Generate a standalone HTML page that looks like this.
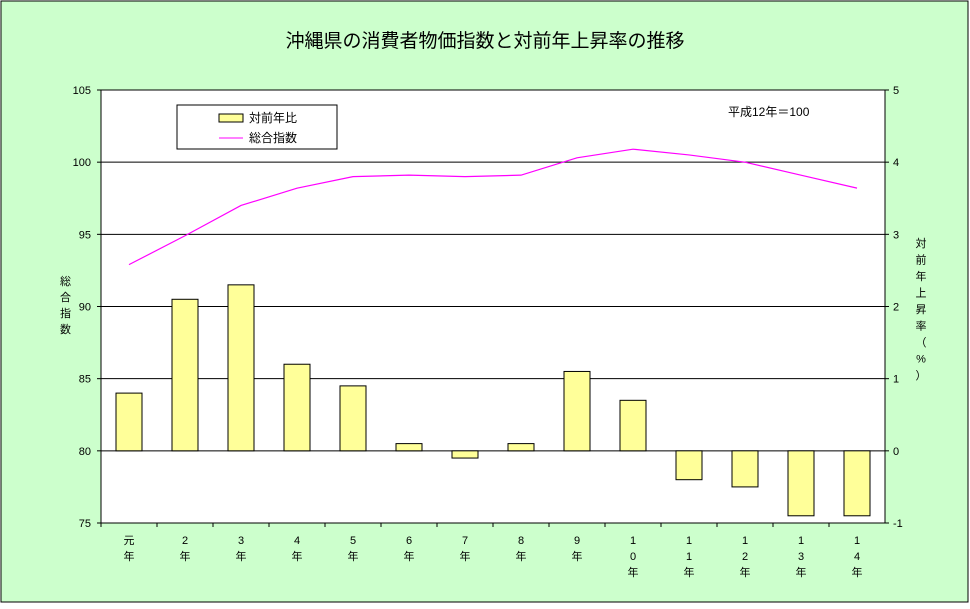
<!DOCTYPE html>
<html><head><meta charset="utf-8"><style>
body{margin:0;background:#fff}
svg text{font-family:"Liberation Sans","Noto Sans CJK JP",sans-serif}
</style></head><body>
<svg id="c" width="970" height="604" xmlns="http://www.w3.org/2000/svg">
<rect x="1" y="1" width="967" height="601" fill="#ccffcc" stroke="#000"/>
<text x="485" y="47" font-size="19" text-anchor="middle">沖縄県の消費者物価指数と対前年上昇率の推移</text>
<rect x="101" y="90" width="784" height="433" fill="#fff" stroke="#000"/>
<g id="grid"></g><g id="bars"></g><g id="line"></g><g id="axes"></g>
<g>
<rect x="177" y="105" width="160" height="44" fill="#fff" stroke="#000"/>
<rect x="219" y="114" width="24" height="8" fill="#ffff99" stroke="#000"/>
<text x="249" y="122" font-size="12">対前年比</text>
<line x1="219" y1="138" x2="243" y2="138" stroke="#ff00ff"/>
<text x="249" y="142" font-size="12">総合指数</text>
</g>
<text x="728" y="116" font-size="12">平成12年＝100</text>
<g font-size="11">
<text x="60" y="285">総</text><text x="60" y="301">合</text><text x="60" y="317">指</text><text x="60" y="333">数</text></g>
<g font-size="11" text-anchor="middle" id="y2t"></g>
</svg>
<script>
const categories=[["元","年"],["2","年"],["3","年"],["4","年"],["5","年"],["6","年"],["7","年"],["8","年"],["9","年"],["1","0","年"],["1","1","年"],["1","2","年"],["1","3","年"],["1","4","年"]];
const rateValues=[0.8,2.1,2.3,1.2,0.9,0.1,-0.1,0.1,1.1,0.7,-0.4,-0.5,-0.9,-0.9];
const indexValues=[92.9,94.9,97.0,98.2,99.0,99.1,99.0,99.1,100.3,100.9,100.5,100.0,99.1,98.2];
const leftTicks=[75,80,85,90,95,100,105];
const rightTicks=[-1,0,1,2,3,4,5];
const NS="http://www.w3.org/2000/svg";
const L=101,R=885,T=90,B=523;
const yL=v=>B-(v-75)/30*(B-T);
const yR=v=>B-(v+1)/6*(B-T);
const xC=i=>L+(i+0.5)*(R-L)/categories.length;
function mk(tag,attrs,parent,txt){const e=document.createElementNS(NS,tag);for(const k in attrs)e.setAttribute(k,attrs[k]);if(txt!==undefined)e.textContent=txt;document.getElementById(parent).appendChild(e);return e;}
leftTicks.forEach(v=>{
 if(v>75&&v<105){const g=mk('line',{x1:L,x2:R,y1:yL(v),y2:yL(v),stroke:'#000'},'grid');
 
 }
 const t=mk('text',{x:L-10,y:yL(v)+4,'font-size':11,'text-anchor':'end'},'axes',v);
 
 
 mk('line',{x1:L-4,x2:L,y1:yL(v),y2:yL(v),stroke:'#000'},'axes');
});
rightTicks.forEach(v=>{
 const t=mk('text',{x:R+8,y:yR(v)+4,'font-size':11},'axes',v);
 
 
 mk('line',{x1:R,x2:R+4,y1:yR(v),y2:yR(v),stroke:'#000'},'axes');
});
const bw=26;
rateValues.forEach((v,i)=>{
 const y0=yR(0),y1=yR(v);
 const b=mk('rect',{x:xC(i)-bw/2,y:Math.min(y0,y1),width:bw,height:Math.abs(y1-y0),fill:'#ffff99',stroke:'#000'},'bars');
 
 
});
const pl=mk('polyline',{points:indexValues.map((v,i)=>xC(i)+','+yL(v)).join(' '),fill:'none',stroke:'#ff00ff','stroke-width':1.2},'line');


categories.forEach((c,i)=>{
 mk('line',{x1:L+i*(R-L)/categories.length,x2:L+i*(R-L)/categories.length,y1:B,y2:B+4,stroke:'#000'},'axes');
 c.forEach((s,j)=>{const t=mk('text',{x:xC(i),y:B+21+j*16,'font-size':11,'text-anchor':'middle'},'axes',s);
 
 });
});
"対前年上昇率（%）".split("").forEach((s,j)=>{mk('text',{x:921,y:247+j*16.5},'y2t',s);});
</script>
</body></html>
